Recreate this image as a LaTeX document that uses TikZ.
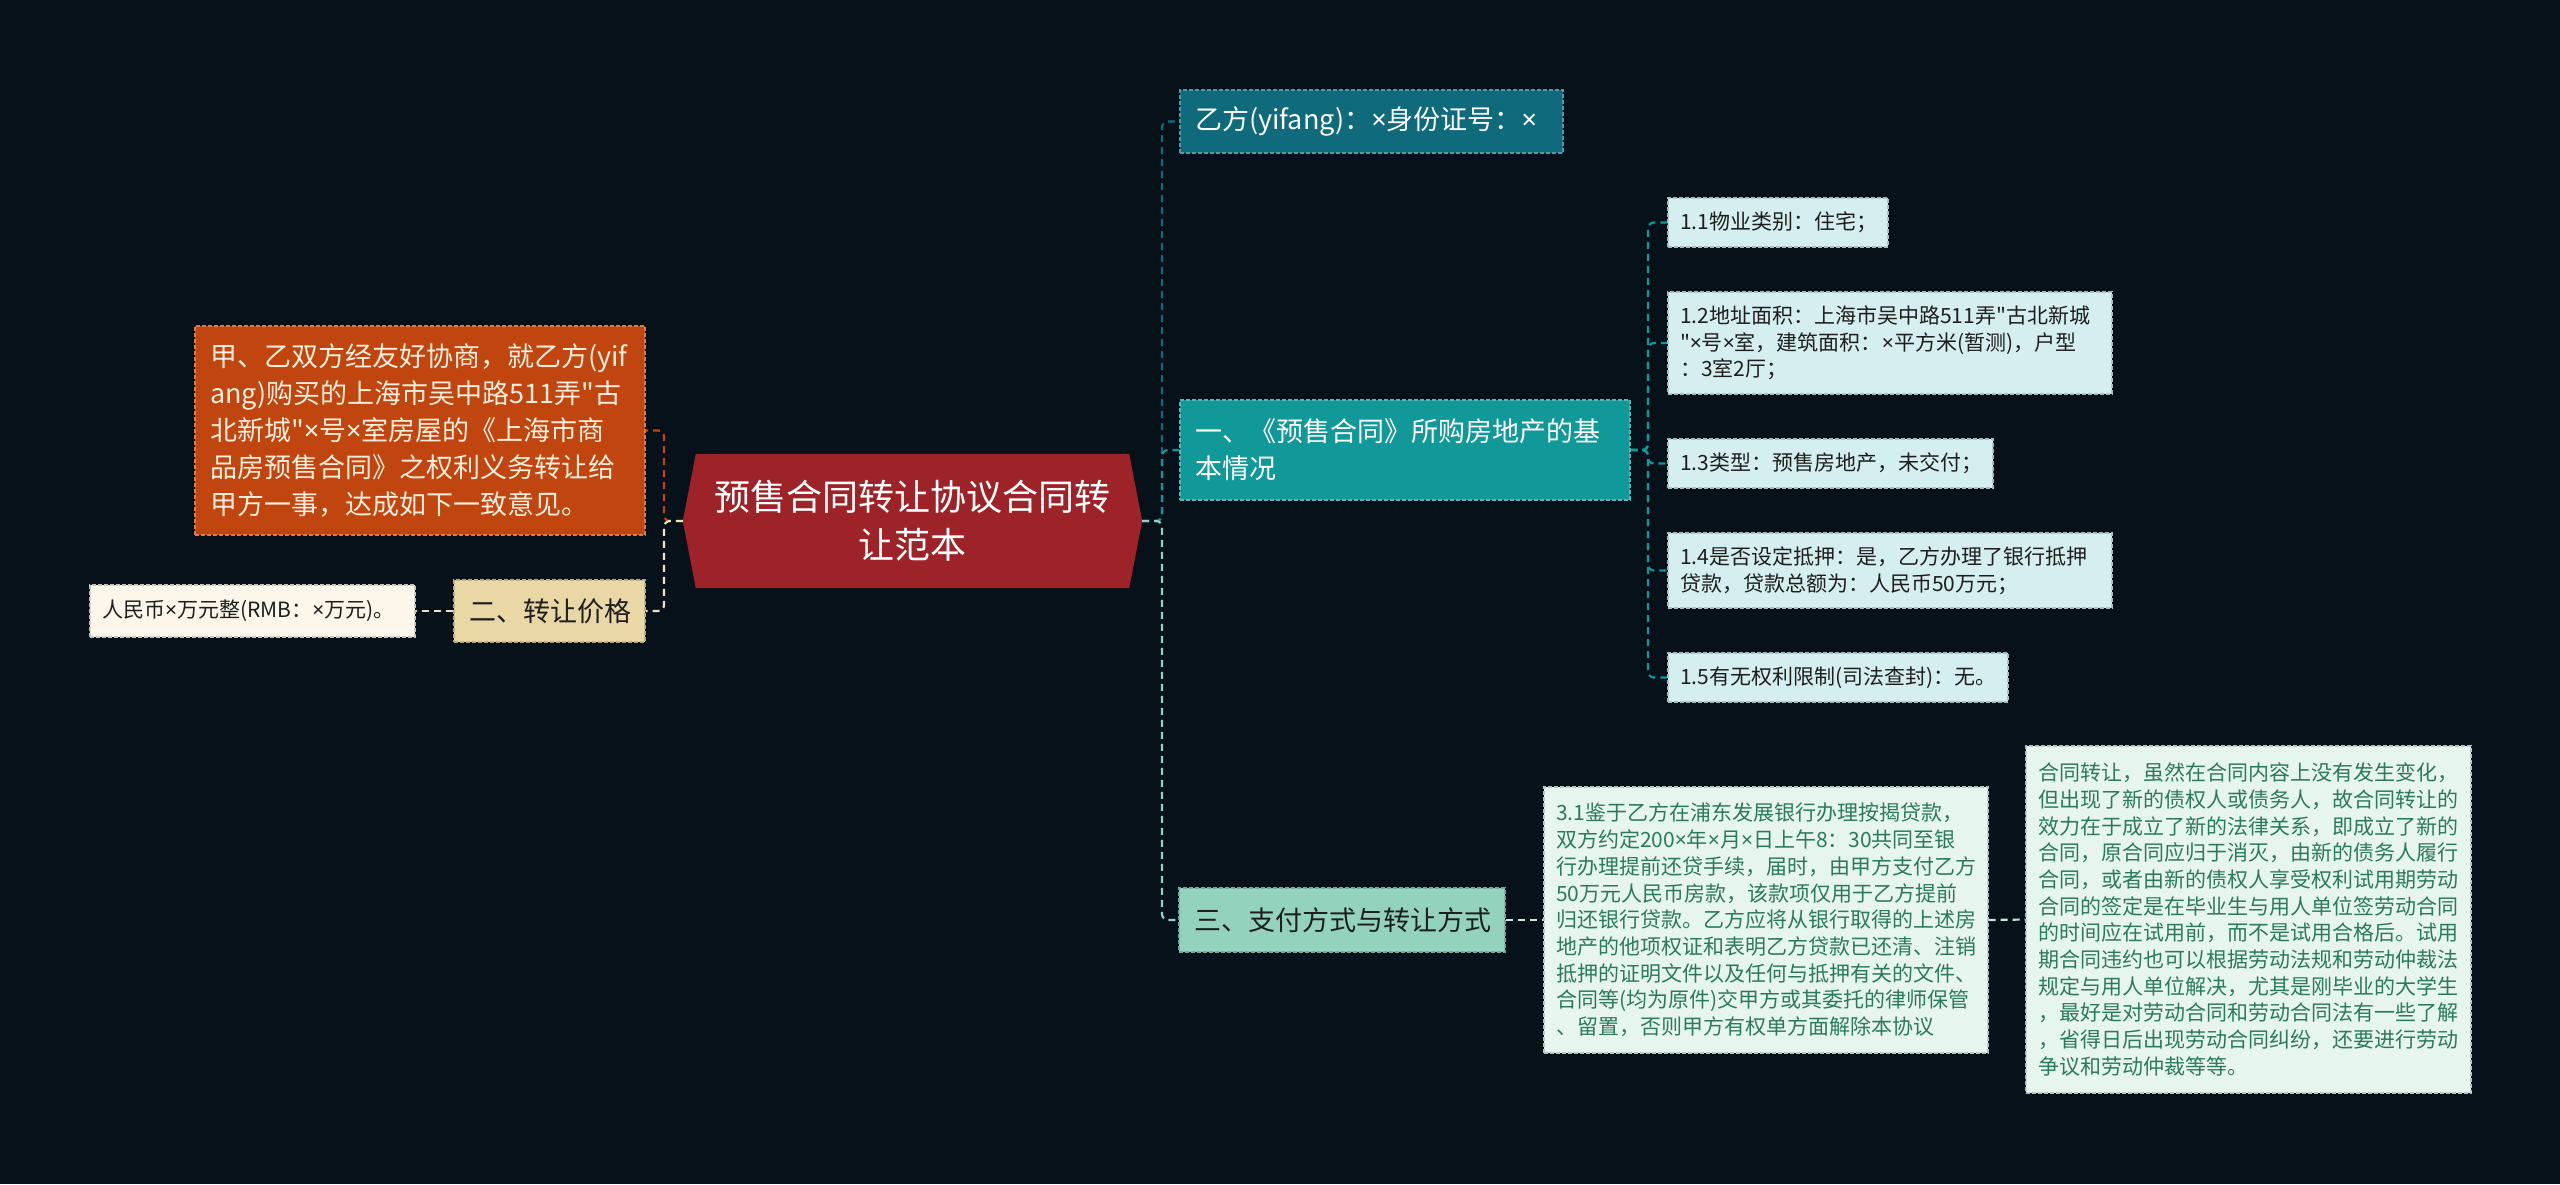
\documentclass[tikz,border=0pt]{standalone}
\usepackage{fontspec}
\newfontfamily\cjk{Noto Sans CJK SC}
\newfontfamily\latfont{Noto Sans}
\newcommand\xmul{{\latfont ×}}
\usetikzlibrary{backgrounds}
\definecolor{bg}{HTML}{07111A}
\definecolor{cRoot}{HTML}{9E2328}
\definecolor{cOr}{HTML}{C0450E}
\definecolor{cOrT}{HTML}{FFEEDD}
\definecolor{cEr}{HTML}{E9D7A6}
\definecolor{cRmb}{HTML}{FCF7EA}
\definecolor{cYif}{HTML}{0F6B7B}
\definecolor{cOne}{HTML}{119898}
\definecolor{cSan}{HTML}{93D3BE}
\definecolor{cPt}{HTML}{D5EEEF}
\definecolor{cLeaf}{HTML}{E7F5EF}
\definecolor{cLeafT}{HTML}{2B7A5E}
\definecolor{cDark}{HTML}{1E1E1E}
\definecolor{cLeafL}{HTML}{C8E6DA}
\definecolor{cCreamL}{HTML}{EDE3C0}
\begin{document}
\begin{tikzpicture}[x=1pt,y=-1pt,
  bx/.style={rectangle, inner xsep=12pt, inner ysep=0pt, align=left, line width=1.2pt, dash pattern=on 4pt off 2pt},
  lvltwo/.style={bx, inner xsep=15pt, font=\cjk\fontsize{27}{37}\selectfont},
  small/.style={bx, font=\cjk\fontsize{21}{26.7}\selectfont},
  conn/.style={line width=2.2pt, dash pattern=on 7pt off 5pt, rounded corners=6pt},
]
\useasboundingbox (0,0) rectangle (2560,1184);

% root
\node[rectangle, inner sep=0pt, minimum width=459, minimum height=134, align=center, text=white,
      font=\cjk\fontsize{36}{48}\selectfont] (root) at (912.5,521) {预售合同转让协议合同转\\让范本};

% left side
\node[lvltwo, fill=cOr, draw=cOr!70!white, text=cOrT, minimum width=450, minimum height=209, text width=420] (agree) at (420,430.5)
 {甲、乙双方经友好协商，就乙方(yif\\ang)购买的上海市吴中路511弄"古\\北新城"\xmul 号\xmul 室房屋的《上海市商\\品房预售合同》之权利义务转让给\\甲方一事，达成如下一致意见。};
\node[lvltwo, fill=cEr, draw=cEr!80!black, text=cDark, minimum width=191, minimum height=62, text width=161] (er) at (549.5,611) {二、转让价格};
\node[small, fill=cRmb, draw=cRmb!80!black, text=cDark, minimum width=325, minimum height=52, text width=301] (rmb) at (252.5,611) {人民币\xmul 万元整(RMB：\xmul 万元)。};

% right side level two
\node[lvltwo, fill=cYif, draw=cYif!70!white, text=white, minimum width=383, minimum height=63, text width=353] (yif) at (1371.5,121.5) {乙方(yifang)：\xmul 身份证号：\xmul};
\node[lvltwo, fill=cOne, draw=cOne!70!white, text=white, minimum width=450, minimum height=100, text width=420] (one) at (1405,450) {一、《预售合同》所购房地产的基\\本情况};
\node[lvltwo, fill=cSan, draw=cSan!80!black, text=cDark, minimum width=326, minimum height=64, text width=296] (san) at (1342,920) {三、支付方式与转让方式};

% 1.x
\node[small, fill=cPt, draw=cPt!80!black, text=cDark, minimum width=220, minimum height=49, text width=196] (p11) at (1778,222.5) {1.1物业类别：住宅；};
\node[small, fill=cPt, draw=cPt!80!black, text=cDark, minimum width=444, minimum height=102, text width=420] (p12) at (1890,343) {1.2地址面积：上海市吴中路511弄"古北新城\\"\xmul 号\xmul 室，建筑面积：\xmul 平方米(暂测)，户型\\：3室2厅；};
\node[small, fill=cPt, draw=cPt!80!black, text=cDark, minimum width=325, minimum height=49, text width=301] (p13) at (1830.5,463.5) {1.3类型：预售房地产，未交付；};
\node[small, fill=cPt, draw=cPt!80!black, text=cDark, minimum width=444, minimum height=75, text width=420] (p14) at (1890,570.5) {1.4是否设定抵押：是，乙方办理了银行抵押\\贷款，贷款总额为：人民币50万元；};
\node[small, fill=cPt, draw=cPt!80!black, text=cDark, minimum width=340, minimum height=49, text width=316] (p15) at (1838,677.5) {1.5有无权利限制(司法查封)：无。};

% 3.x
\node[small, fill=cLeaf, draw=cLeaf!80!black, text=cLeafT, minimum width=444, minimum height=266, text width=420] (p31) at (1766,920)
 {3.1鉴于乙方在浦东发展银行办理按揭贷款，\\双方约定200\xmul 年\xmul 月\xmul 日上午8：30共同至银\\行办理提前还贷手续，届时，由甲方支付乙方\\50万元人民币房款，该款项仅用于乙方提前\\归还银行贷款。乙方应将从银行取得的上述房\\地产的他项权证和表明乙方贷款已还清、注销\\抵押的证明文件以及任何与抵押有关的文件、\\合同等(均为原件)交甲方或其委托的律师保管\\、留置，否则甲方有权单方面解除本协议};
\node[small, fill=cLeaf, draw=cLeaf!80!black, text=cLeafT, minimum width=445, minimum height=347, text width=421] (note) at (2248.5,919.5)
 {合同转让，虽然在合同内容上没有发生变化，\\但出现了新的债权人或债务人，故合同转让的\\效力在于成立了新的法律关系，即成立了新的\\合同，原合同应归于消灭，由新的债务人履行\\合同，或者由新的债权人享受权利试用期劳动\\合同的签定是在毕业生与用人单位签劳动合同\\的时间应在试用前，而不是试用合格后。试用\\期合同违约也可以根据劳动法规和劳动仲裁法\\规定与用人单位解决，尤其是刚毕业的大学生\\，最好是对劳动合同和劳动合同法有一些了解\\，省得日后出现劳动合同纠纷，还要进行劳动\\争议和劳动仲裁等等。};

\coordinate (lj) at (664,521);
\coordinate (rj) at (1162,521);
\coordinate (oj) at (1648,450);

\begin{scope}[on background layer]
\fill[bg] (0,0) rectangle (2560,1184);
\fill[cRoot] (root.west) -- ([xshift=13pt]root.north west) -- ([xshift=-13pt]root.north east) -- (root.east)
   -- ([xshift=-13pt]root.south east) -- ([xshift=13pt]root.south west) -- cycle;
% connectors
\draw[conn, cOr] (root.west) -- (lj) |- (agree.east);
\draw[conn, cCreamL] (root.west) -- (lj) |- (er.east);
\draw[conn, cCreamL] (er.west) -- (rmb.east);
\draw[conn, cYif] (root.east) -- (rj) |- (yif.west);
\draw[conn, cOne] (root.east) -- (rj) |- (one.west);
\draw[conn, cSan] (root.east) -- (rj) |- (san.west);
\foreach \p in {p11,p12,p13,p14,p15}
  \draw[conn, cOne] (one.east) -- (oj) |- (\p.west);
\draw[conn, cLeafL] (san.east) -- (p31.west);
\draw[conn, cLeafL] (p31.east) -- (note.west);
\end{scope}
\end{tikzpicture}
\end{document}
